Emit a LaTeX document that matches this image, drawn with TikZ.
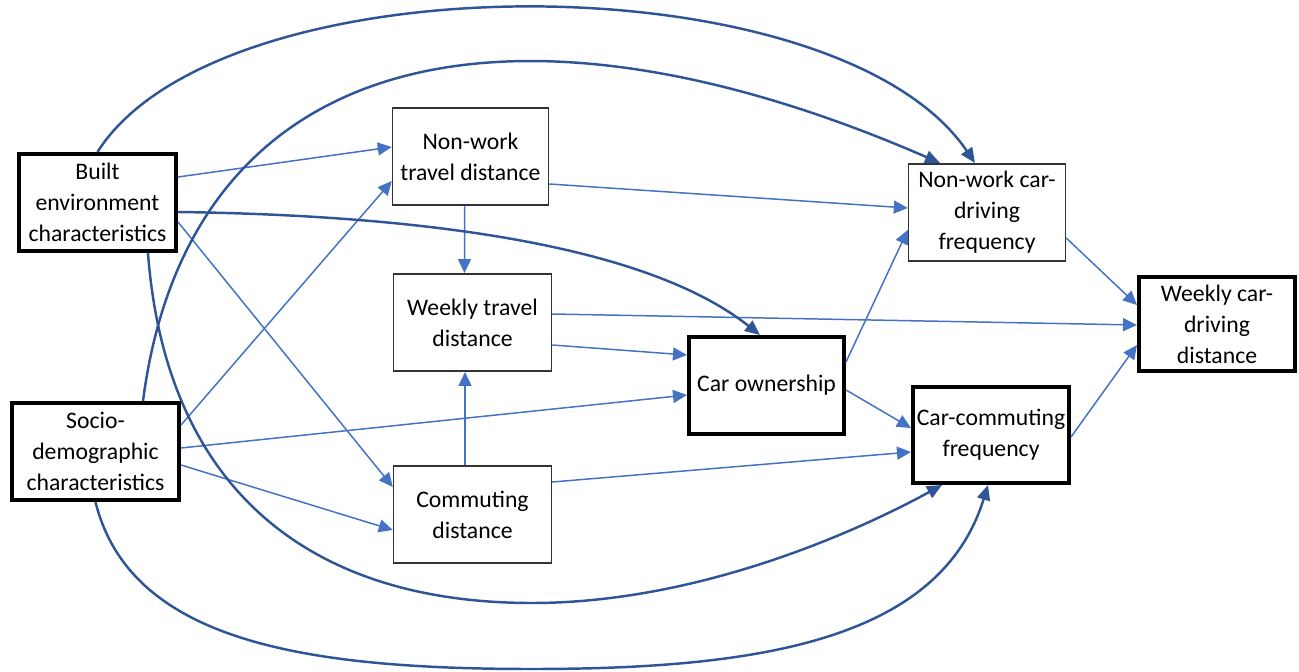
\documentclass[tikz,border=0pt]{standalone}
\usepackage{fontspec}
\setmainfont{Carlito}
\usetikzlibrary{arrows.meta}
\definecolor{lightarrow}{HTML}{4472C4}
\definecolor{darkarrow}{HTML}{2F5597}

\begin{document}
\begin{tikzpicture}
[x=0.02cm, y=-0.02cm, font=\fontsize{13.5}{17.6}\selectfont,
thinbox/.style={rectangle, draw=black!80, line width=0.85pt, align=center, inner sep=0pt, minimum height=1.95cm},
thickbox/.style={rectangle, draw=black, line width=2.3pt, align=center, inner sep=0pt, minimum height=1.94cm},
lightedge/.style={-{Triangle[length=0.28cm, width=0.26cm]}, draw=lightarrow, line width=0.85pt},
darkedge/.style={-{Triangle[length=0.3cm, width=0.26cm]}, draw=darkarrow, line width=1.4pt}
]
\useasboundingbox (0,0) rectangle (1299,672);

\node[thickbox, minimum width=3.14cm] (built) at (97.5,202.5) {Built\\environment\\characteristics};
\node[thickbox, minimum width=3.34cm] (socio) at (95.5,451.5) {Socio-\\demographic\\characteristics};
\node[thinbox, minimum width=3.12cm] (nwtd) at (470.5,156.5) {Non-work\\travel distance};
\node[thinbox, minimum width=3.16cm] (wtd) at (472.5,322.5) {Weekly travel\\distance};
\node[thinbox, minimum width=3.16cm] (comm) at (472.5,514.5) {Commuting\\distance};
\node[thickbox, minimum width=3.1cm] (carown) at (766.5,385.5) {Car ownership};
\node[thinbox, minimum width=3.14cm] (nwcdf) at (987,212.5) {Non-work car-\\driving\\frequency};
\node[thickbox, minimum width=3.12cm, minimum height=1.92cm] (ccf) at (991,435) {Car-commuting\\frequency};
\node[thickbox, minimum width=3.12cm, minimum height=1.88cm] (wcdd) at (1217,324) {Weekly car-\\driving\\distance};

\draw[lightedge] ([yshift=0.51cm]built.east) -- ([yshift=0.19cm]nwtd.west);
\draw[lightedge] ([yshift=-0.39cm]built.east) -- ([yshift=0.55cm]comm.west);
\draw[lightedge] ([yshift=0.53cm]socio.east) -- ([yshift=-0.49cm]nwtd.west);
\draw[lightedge] ([yshift=0.07cm]socio.east) -- ([yshift=-0.19cm]carown.west);
\draw[lightedge] ([yshift=-0.27cm]socio.east) -- ([yshift=-0.31cm]comm.west);
\draw[lightedge] ([xshift=-0.12cm]nwtd.south) -- ([xshift=-0.16cm]wtd.north);
\draw[lightedge] ([xshift=-0.15cm]comm.north) -- ([xshift=-0.15cm]wtd.south);
\draw[lightedge] ([yshift=-0.55cm]nwtd.east) -- ([yshift=0.09cm]nwcdf.west);
\draw[lightedge] ([yshift=0.17cm]wtd.east) -- ([yshift=-0.02cm]wcdd.west);
\draw[lightedge] ([yshift=-0.45cm]wtd.east) -- ([yshift=0.61cm]carown.west);
\draw[lightedge] ([yshift=0.65cm]comm.east) -- ([yshift=-0.34cm]ccf.west);
\draw[lightedge] ([yshift=0.47cm]carown.east) -- ([yshift=-0.35cm]nwcdf.west);
\draw[lightedge] ([yshift=-0.09cm]carown.east) -- ([yshift=0.14cm]ccf.west);
\draw[lightedge] ([yshift=-0.51cm]nwcdf.east) -- ([yshift=0.38cm]wcdd.west);
\draw[lightedge] ([yshift=-0.04cm]ccf.east) -- ([yshift=-0.42cm]wcdd.west);

\draw[darkedge] (built.north) .. controls (220,-42) and (836,-42) .. ([xshift=-0.24cm]nwcdf.north);
\draw[darkedge] ([xshift=0.95cm]socio.north) .. controls (190,40) and (520,-20) .. ([xshift=-0.94cm]nwcdf.north);
\draw[darkedge] ([yshift=-0.19cm]built.east) .. controls (400,215) and (640,240) .. ([xshift=-0.13cm]carown.north);
\draw[darkedge] ([xshift=1.01cm]built.south) .. controls (165,480) and (300,603) .. (532,603)
  .. controls (700,603) and (860,530) .. ([xshift=-0.98cm]ccf.south);
\draw[darkedge] (socio.south) .. controls (130,640) and (300,669) .. (532,669)
  .. controls (760,669) and (940,640) .. ([xshift=-0.06cm]ccf.south);

\end{tikzpicture}
\end{document}
